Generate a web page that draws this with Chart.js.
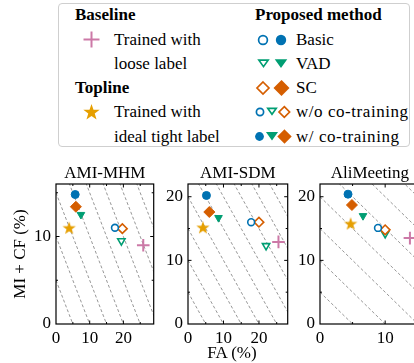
<!DOCTYPE html>
<html>
<head>
<meta charset="utf-8">
<script src="https://cdn.jsdelivr.net/npm/chart.js@4.4.1/dist/chart.umd.min.js"></script>
<style>
  html, body { margin:0; padding:0; background:#fff; }
  body { width:414px; height:363px; overflow:hidden; position:relative; font-family:"Liberation Serif", serif; }
  canvas { position:absolute; }
  .t { position:absolute; font-size:17px; line-height:20px; white-space:nowrap; color:#000; }
  .b { font-weight:bold; }
  .w { letter-spacing:0.55px; }
  #legendBox { position:absolute; left:58px; top:3px; width:352px; height:144px; border:1.5px solid #cfcfcf; border-radius:4px; box-sizing:border-box; }
  svg.lg { position:absolute; left:0; top:0; }
</style>
</head>
<body>
<div id="legendBox"></div>
<svg class="lg" width="414" height="150" id="legendSvg"></svg>
<div class="t b" style="left:75px;top:4.5px">Baseline</div>
<div class="t" style="left:114px;top:29.5px">Trained with</div>
<div class="t" style="left:114px;top:53.5px">loose label</div>
<div class="t b" style="left:75px;top:78px">Topline</div>
<div class="t" style="left:114px;top:102px">Trained with</div>
<div class="t" style="left:114px;top:126.5px">ideal tight label</div>
<div class="t b" style="left:255px;top:4.5px">Proposed method</div>
<div class="t" style="left:296px;top:29.5px">Basic</div>
<div class="t" style="left:296px;top:53.5px">VAD</div>
<div class="t" style="left:296px;top:78px">SC</div>
<div class="t w" style="left:296px;top:102px">w/o co-training</div>
<div class="t w" style="left:296px;top:126.5px">w/ co-training</div>

<canvas id="c0" width="162" height="208" style="left:0px;top:155px"></canvas>
<canvas id="c1" width="136" height="208" style="left:160px;top:155px"></canvas>
<canvas id="c2" width="136" height="208" style="left:292px;top:155px"></canvas>
<div class="t" style="left:182px;top:343px;width:100px;text-align:center">FA (%)</div>

<script>
// ---------------- data ----------------
const panelNames = ['AMI-MHM', 'AMI-SDM', 'AliMeeting'];
const faMax = [29, 28.1, 15.3];
const mcMax = [16, 22, 22];
const xTickValues = [[0, 10, 20], [0, 10, 20], [0, 10]];
const yTickValues = [[0, 10], [0, 10, 20], [0, 10, 20]];
const derLevels = [5, 10, 15, 20, 25, 30, 35, 40, 45];

// FA (%) and MI + CF (%) per panel
const baselineFA = [25.9, 25.5, 13.8];
const baselineMC = [9.0, 12.9, 13.5];
const toplineFA = [3.9, 4.2, 4.7];
const toplineMC = [11.0, 15.2, 15.8];
const basicWoFA = [17.5, 17.8, 8.9];
const basicWoMC = [11.0, 16.0, 15.1];
const vadWoFA = [19.4, 22.0, 10.0];
const vadWoMC = [9.5, 12.3, 14.2];
const scWoFA = [19.7, 20.0, 10.0];
const scWoMC = [10.9, 16.0, 14.8];
const basicWFA = [5.7, 5.2, 4.3];
const basicWMC = [14.8, 20.2, 20.4];
const vadWFA = [7.4, 8.6, 6.6];
const vadWMC = [12.5, 16.7, 17.0];
const scWFA = [5.9, 6.0, 4.9];
const scWMC = [13.4, 17.6, 18.7];

// ---------------- styles ----------------
const BLUE = '#0072B2', GREEN = '#009E73', ORANGE = '#D55E00', YELLOW = '#E69F00', PINK = '#CC79A7';
const FONT = { family: 'Liberation Serif', size: 17, weight: 'normal' };

function starCanvas(R, color) {
  const s = Math.ceil(R * 2 + 2);
  const c = document.createElement('canvas');
  c.width = s; c.height = s;
  const g = c.getContext('2d');
  const cx = s / 2, cy = s / 2 + R * 0.1, r = R * 0.4;
  g.beginPath();
  for (let k = 0; k < 10; k++) {
    const a = -Math.PI / 2 + k * Math.PI / 5;
    const rr = k % 2 === 0 ? R : r;
    const px = cx + rr * Math.cos(a), py = cy + rr * Math.sin(a);
    k === 0 ? g.moveTo(px, py) : g.lineTo(px, py);
  }
  g.closePath();
  g.fillStyle = color; g.fill();
  return c;
}
const starImg = starCanvas(7, YELLOW);

// ---------------- legend markers (svg) ----------------
(function () {
  const svg = document.getElementById('legendSvg');
  const ns = 'http://www.w3.org/2000/svg';
  function add(tag, attrs) {
    const e = document.createElementNS(ns, tag);
    for (const k in attrs) e.setAttribute(k, attrs[k]);
    svg.appendChild(e);
  }
  function circ(x, y, r, col, filled) {
    add('circle', { cx: x, cy: y, r: r, fill: filled ? col : '#fff', stroke: col, 'stroke-width': filled ? 0 : 1.7 });
  }
  function tri(x, y, s, col, filled) {
    const h = s * 0.9;
    add('polygon', { points: `${x - s},${y - h * 0.55} ${x + s},${y - h * 0.55} ${x},${y + h * 1.0}`, fill: filled ? col : '#fff', stroke: col, 'stroke-width': 1.7, 'stroke-linejoin': 'miter' });
  }
  function dia(x, y, s, col, filled) {
    add('polygon', { points: `${x},${y - s} ${x + s},${y} ${x},${y + s} ${x - s},${y}`, fill: filled ? col : '#fff', stroke: col, 'stroke-width': 1.7 });
  }
  add('line', { x1: 83.5, y1: 39.5, x2: 99.5, y2: 39.5, stroke: PINK, 'stroke-width': 2 });
  add('line', { x1: 91.5, y1: 31.5, x2: 91.5, y2: 47.5, stroke: PINK, 'stroke-width': 2 });
  const R = 8.6, r = 3.4, cx = 91.5, cy = 112.5;
  let pts = [];
  for (let k = 0; k < 10; k++) {
    const a = -Math.PI / 2 + k * Math.PI / 5;
    const rr = k % 2 === 0 ? R : r;
    pts.push((cx + rr * Math.cos(a)).toFixed(2) + ',' + (cy + rr * Math.sin(a)).toFixed(2));
  }
  add('polygon', { points: pts.join(' '), fill: YELLOW });
  circ(263, 40, 4.4, BLUE, false); circ(281, 40, 5.2, BLUE, true);
  tri(263.5, 62.5, 4.6, GREEN, false); tri(281, 62.5, 4.6, GREEN, true);
  dia(263, 88, 6, ORANGE, false); dia(281.5, 88, 6.8, ORANGE, true);
  circ(260, 112, 3.6, BLUE, false); tri(272, 110.5, 4.2, GREEN, false); dia(284.3, 112, 5.3, ORANGE, false);
  circ(259.5, 136.5, 4.4, BLUE, true); tri(272, 135, 4.4, GREEN, true); dia(284.5, 136.5, 6.0, ORANGE, true);
})();

// ---------------- frame, inward ticks and panel title plugin ----------------
const framePlugin = {
  id: 'frame',
  afterDatasetsDraw(chart) {
    const { ctx, chartArea: { left, right, top, bottom }, scales: { x, y } } = chart;
    ctx.save();
    ctx.strokeStyle = '#000';
    ctx.lineWidth = 1.2;
    ctx.strokeRect(left, top, right - left, bottom - top);
    ctx.lineWidth = 1;
    ctx.beginPath();
    for (let v = 0; v <= x.max + 1e-9; v += 5) {
      const p = x.getPixelForValue(v);
      if (p <= left + 0.5 || p >= right - 0.5) continue;
      const len = v % 10 === 0 ? 3.5 : 2;
      ctx.moveTo(p, bottom); ctx.lineTo(p, bottom - len);
      ctx.moveTo(p, top); ctx.lineTo(p, top + len);
    }
    for (let v = 0; v <= y.max + 1e-9; v += 5) {
      const p = y.getPixelForValue(v);
      if (p >= bottom - 0.5 || p <= top + 0.5) continue;
      const len = v % 10 === 0 ? 3.5 : 2;
      ctx.moveTo(left, p); ctx.lineTo(left + len, p);
      ctx.moveTo(right, p); ctx.lineTo(right - len, p);
    }
    ctx.stroke();
    ctx.fillStyle = '#000';
    ctx.font = '17px "Liberation Serif"';
    ctx.textAlign = 'center';
    ctx.textBaseline = 'alphabetic';
    ctx.fillText(chart.options.plugins.panelTitle.text, (left + right) / 2, top - 6.5);
    ctx.restore();
  }
};

function pt(style, color, filled, radius, rotation) {
  return {
    pointStyle: style, pointRadius: radius, pointRotation: rotation || 0,
    backgroundColor: filled ? color : '#ffffff', borderColor: color,
    borderWidth: filled ? 1 : 1.6, showLine: false, order: 0
  };
}

function makeChart(i, yWidth, padRight) {
  const datasets = [];
  derLevels.forEach(c => {
    datasets.push({
      data: [{ x: 0, y: c }, { x: c, y: 0 }], showLine: true, pointRadius: 0,
      borderColor: 'rgba(110,110,110,0.9)', borderWidth: 0.8, borderDash: [3, 2.2], order: 10
    });
  });
  datasets.push(Object.assign({ data: [{ x: baselineFA[i], y: baselineMC[i] }] }, pt('cross', PINK, true, 6.3), { borderWidth: 2 }));
  datasets.push(Object.assign({ data: [{ x: basicWoFA[i], y: basicWoMC[i] }] }, pt('circle', BLUE, false, 3.4)));
  datasets.push(Object.assign({ data: [{ x: scWoFA[i], y: scWoMC[i] }] }, pt('rectRot', ORANGE, false, 4.8)));
  datasets.push(Object.assign({ data: [{ x: vadWoFA[i], y: vadWoMC[i] }] }, pt('triangle', GREEN, false, 4.2, 180)));
  datasets.push(Object.assign({ data: [{ x: toplineFA[i], y: toplineMC[i] }] }, { pointStyle: starImg, pointRadius: 7, showLine: false, order: 0 }));
  datasets.push(Object.assign({ data: [{ x: vadWFA[i], y: vadWMC[i] }] }, pt('triangle', GREEN, true, 4.4, 180)));
  datasets.push(Object.assign({ data: [{ x: scWFA[i], y: scWMC[i] }] }, pt('rectRot', ORANGE, true, 5.5)));
  datasets.push(Object.assign({ data: [{ x: basicWFA[i], y: basicWMC[i] }] }, pt('circle', BLUE, true, 4)));

  const yScale = {
    type: 'linear', min: 0, max: mcMax[i],
    grid: { display: false, drawTicks: false }, border: { display: false },
    ticks: { font: FONT, color: '#000', padding: 5, includeBounds: false },
    afterBuildTicks: s => { s.ticks = yTickValues[i].map(v => ({ value: v })); },
    afterFit: s => { s.width = yWidth; }
  };
  if (i === 0) {
    yScale.title = { display: true, text: 'MI + CF (%)', font: FONT, color: '#000', padding: { top: 10, bottom: 0 } };
  }
  return new Chart(document.getElementById('c' + i), {
    type: 'scatter',
    data: { datasets },
    options: {
      animation: false, responsive: false, devicePixelRatio: 1,
      layout: { padding: { left: 0, right: padRight, top: 29, bottom: 0 } },
      plugins: {
        legend: { display: false }, tooltip: { enabled: false }, title: { display: false },
        panelTitle: { text: panelNames[i] }
      },
      scales: {
        x: {
          type: 'linear', min: 0, max: faMax[i],
          grid: { display: false, drawTicks: false }, border: { display: false },
          ticks: { font: FONT, color: '#000', padding: 4, maxRotation: 0, includeBounds: false },
          afterBuildTicks: s => { s.ticks = xTickValues[i].map(v => ({ value: v })); },
          afterFit: s => { s.height = 39; }
        },
        y: yScale
      }
    },
    plugins: [framePlugin]
  });
}

makeChart(0, 56, 6);
makeChart(1, 28, 4);
makeChart(2, 28, 4);
</script>
</body>
</html>
